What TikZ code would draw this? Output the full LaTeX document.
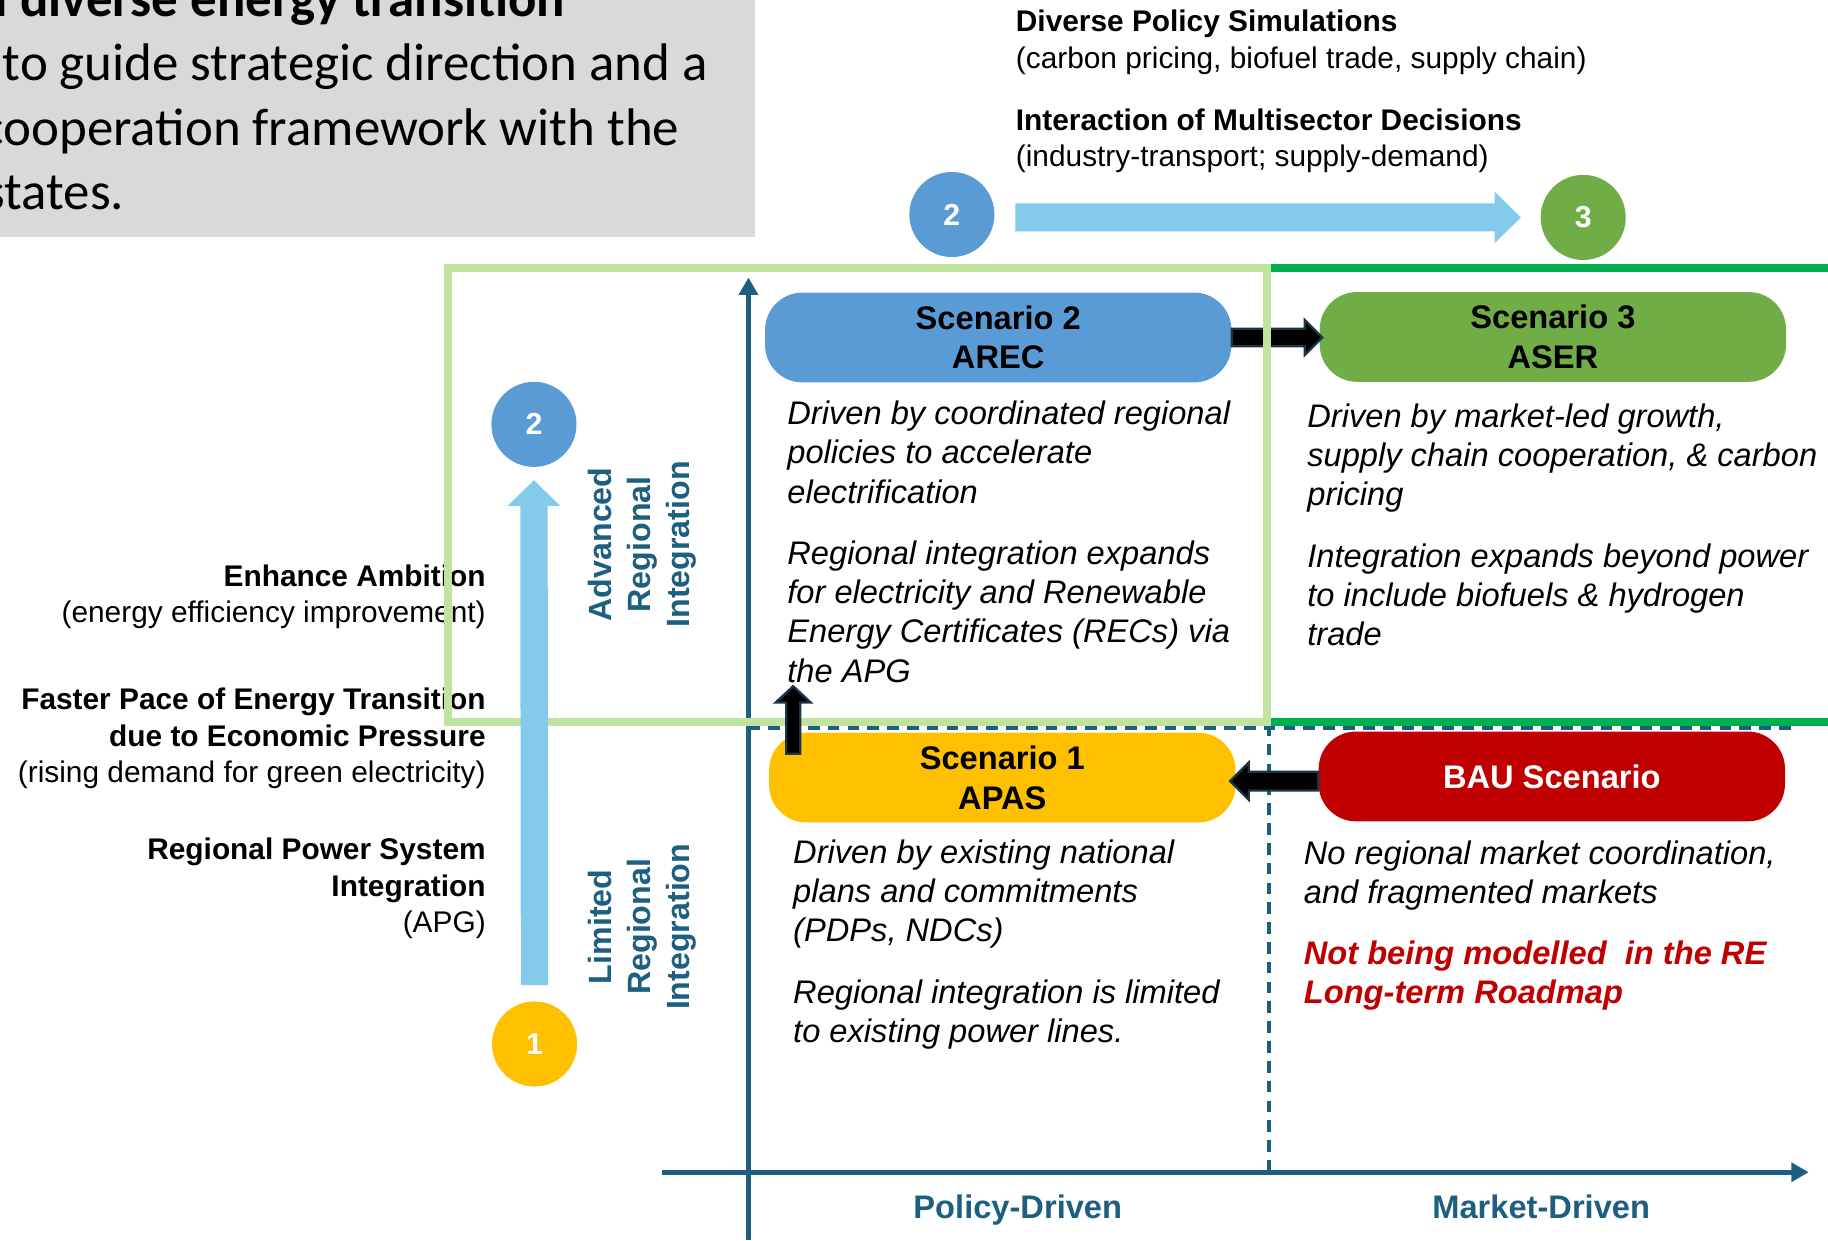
\documentclass[tikz,border=0pt]{standalone}
\usepackage{fontspec}
\setmainfont{Liberation Sans}
\newfontfamily\calibri{Carlito}
\usetikzlibrary{arrows.meta,calc}
\definecolor{grayboxc}{HTML}{D9D9D9}
\definecolor{sblue}{HTML}{5B9BD5}
\definecolor{sgreen}{HTML}{70AD47}
\definecolor{syellow}{HTML}{FFC000}
\definecolor{sred}{HTML}{C00000}
\definecolor{lightarrow}{HTML}{83CAEB}
\definecolor{axisc}{HTML}{1D5F80}
\definecolor{lgreen}{HTML}{C0E3A0}
\definecolor{dgreen}{HTML}{00B050}
\definecolor{outl}{HTML}{1A3645}
\tikzset{
  graytext/.style={inner sep=0pt, font=\calibri\fontsize{22.7}{27.5}\selectfont},
  ann/.style={inner sep=0pt, font=\fontsize{12.8}{15.5}\selectfont},
  annb/.style={ann, font=\fontsize{12.8}{15.5}\selectfont\bfseries},
  desc/.style={inner sep=0pt, align=left, anchor=base west, font=\fontsize{14}{16.75}\selectfont\itshape},
  pill/.style={rounded corners=16pt, minimum width=200pt, minimum height=38.5pt, inner sep=0pt,
    font=\fontsize{14}{17}\selectfont\bfseries, align=center},
  numcirc/.style={circle, minimum size=36.5pt, inner sep=0pt, text=white, font=\fontsize{13}{13}\selectfont\bfseries},
  rotlab/.style={rotate=90, align=center, inner sep=0pt, text=axisc, font=\fontsize{13.8}{16.75}\selectfont\bfseries},
  axlab/.style={inner sep=0pt, text=axisc, anchor=base, font=\fontsize{14}{16}\selectfont\bfseries},
  axisline/.style={draw=axisc, line width=2.15pt, -{Triangle[length=7.5pt,width=8pt]}},
  dashline/.style={draw=axisc, line width=1.4pt, dash pattern=on 5pt off 3.5pt},
  blackarrow/.style={fill=black, draw=outl, line width=1pt, line join=miter},
  lightarrowfill/.style={fill=lightarrow}
}
\begin{document}
\begin{tikzpicture}[x=0.5pt,y=-0.5pt]
\useasboundingbox (0,0) rectangle (1568,1064);

% gray box
\fill[grayboxc] (0,0) rectangle (648,203);
\begin{scope}
\clip (0,0) rectangle (648,203);
\node[graytext, font=\calibri\fontsize{22.7}{27.5}\selectfont\bfseries, anchor=base east] (g1) at (485,14) {and diverse energy transition};
\node[graytext, anchor=base west] (g2) at (2,69) {to guide strategic direction and a};
\node[graytext, anchor=base east] (g3) at (583,125) {cooperation framework with the};
\node[graytext, anchor=base east] (g4) at (107,180) {states.};
\end{scope}

% top annotations
\node[annb, anchor=base west] (t1) at (871,27) {Diverse Policy Simulations};
\node[ann, anchor=base west] (t2) at (871,58.5) {(carbon pricing, biofuel trade, supply chain)};
\node[annb, anchor=base west] (t3) at (871,112) {Interaction of Multisector Decisions};
\node[ann, anchor=base west] (t4) at (871,143) {(industry-transport; supply-demand)};

% left annotations
\node[annb, anchor=base east] (l1) at (417,503) {Enhance Ambition};
\node[ann, anchor=base east] (l2) at (417,534) {(energy efficiency improvement)};
\node[annb, anchor=base east] (l3) at (417,609) {Faster Pace of Energy Transition};
\node[annb, anchor=base east] (l4) at (417,640) {due to Economic Pressure};
\node[ann, anchor=base east] (l5) at (417,671) {(rising demand for green electricity)};
\node[annb, anchor=base east] (l6) at (417,737) {Regional Power System};
\node[annb, anchor=base east] (l7) at (417,769) {Integration};
\node[ann, anchor=base east] (l8) at (417,800) {(APG)};

% dashed quadrant lines
\coordinate (dvtop) at (1088.5,230);
\coordinate (dvbot) at (1088.5,1005.5);
\coordinate (dhl) at (642,624.5);
\coordinate (dhr) at (1540,624.5);
\draw[dashline] (dvtop) -- (dvbot);
\draw[dashline] (dhl) -- (dhr);

% axes
\coordinate (yax0) at (642,1064);
\coordinate (yax1) at (642,238);
\coordinate (xax0) at (567.5,1005.5);
\coordinate (xax1) at (1551.5,1005.5);
\draw[axisline] (yax0) -- (yax1);
\draw[axisline] (xax0) -- (xax1);

% scenario boxes
\node[pill, fill=sblue] (s2) at (856.25,289.5) {Scenario 2\\AREC};
\node[pill, fill=sgreen] (s3) at (1332,289) {Scenario 3\\ASER};
\node[pill, fill=syellow] (s1) at (859.75,667) {Scenario 1\\APAS};
\node[pill, fill=sred, text=white] (bau) at (1331.1,666) {BAU Scenario};

% arrow S2 -> S3
\coordinate (ba) at (s2.east);
\coordinate (bb) at ($(s3.west |- s2.east)+(2.5,0)$);
\draw[blackarrow] ($(ba)+(0,-7.5)$) -- ($(bb)+(-15,-7.5)$) -- ($(bb)+(-15,-15)$) -- (bb)
  -- ($(bb)+(-15,15)$) -- ($(bb)+(-15,7.5)$) -- ($(ba)+(0,7.5)$) -- cycle;

% arrow BAU -> S1
\coordinate (ca) at ($(bau.west)+(0,4)$);
\coordinate (cb) at ($(s1.east |- ca)+(-5,0)$);
\draw[blackarrow] ($(ca)+(0,-8)$) -- ($(cb)+(16,-8)$) -- ($(cb)+(16,-16)$) -- (cb)
  -- ($(cb)+(16,16)$) -- ($(cb)+(16,8)$) -- ($(ca)+(0,8)$) -- cycle;

% descriptions (base = baseline of last line)
\node[desc] (d2) at (675,585) {Driven by coordinated regional\\policies to accelerate\\electrification\\[9.75pt]Regional integration expands\\for electricity and Renewable\\Energy Certificates (RECs) via\\the APG};
\node[desc] (d3) at (1121,554) {Driven by market-led growth,\\supply chain cooperation, \& carbon\\pricing\\[9.75pt]Integration expands beyond power\\to include biofuels \& hydrogen\\trade};
\node[desc] (d1) at (680,894.5) {Driven by existing national\\plans and commitments\\(PDPs, NDCs)\\[10pt]Regional integration is limited\\to existing power lines.};
\node[desc] (db) at (1118,775) {No regional market coordination,\\and fragmented markets};
\node[desc, text=sred, font=\fontsize{14}{16.75}\selectfont\bfseries\itshape] (dr) at (1118,861) {Not being modelled~ in the RE\\Long-term Roadmap};

% green frames
\draw[lgreen, line width=3.5pt] (384.5,230) rectangle (1086.5,619.5);
\draw[dgreen, line width=3.5pt] (1090,230) -- (1568,230);
\draw[dgreen, line width=3.5pt] (1090,619.5) -- (1568,619.5);

% up arrow from S1
\coordinate (ua) at ($(s1.north west)+(21,18.5)$);
\coordinate (ub) at ($(s1.north west)+(21,-39.5)$);
\draw[blackarrow] ($(ua)+(-6,0)$) -- ($(ub)+(-6,14)$) -- ($(ub)+(-15,14)$) -- (ub)
  -- ($(ub)+(15,14)$) -- ($(ub)+(6,14)$) -- ($(ua)+(6,0)$) -- cycle;

% circles
\node[numcirc, fill=sblue] (c2t) at (816.5,184) {2};
\node[numcirc, fill=sgreen] (c3t) at (1358,186.5) {3};
\node[numcirc, fill=sblue] (c2l) at (458,364) {2};
\node[numcirc, fill=syellow] (c1) at (458.5,895.5) {1};

% light blue arrows
\coordinate (ha) at ($(c2t.east |- c3t.center)+(17.5,0)$);
\coordinate (hb) at ($(c3t.west)+(-16.5,0)$);
\fill[lightarrowfill] ($(ha)+(0,-12)$) -- ($(hb)+(-22.5,-12)$) -- ($(hb)+(-22.5,-22)$) -- (hb)
  -- ($(hb)+(-22.5,22)$) -- ($(hb)+(-22.5,12)$) -- ($(ha)+(0,12)$) -- cycle;
\coordinate (va) at ($(c1.north)+(0,-13.5)$);
\coordinate (vb) at ($(c2l.south)+(0,11)$);
\fill[lightarrowfill] ($(va)+(-11.75,0)$) -- ($(vb)+(-11.75,22)$) -- ($(vb)+(-22.5,22)$) -- (vb)
  -- ($(vb)+(22.5,22)$) -- ($(vb)+(11.75,22)$) -- ($(va)+(11.75,0)$) -- cycle;

% rotated labels
\node[rotlab] (adv) at (551,467) {Advanced\\Regional\\Integration};
\node[rotlab] (lim) at (551,795) {Limited\\Regional\\Integration};

% axis labels
\node[axlab] (pol) at (873,1045) {Policy-Driven};
\node[axlab] (mkt) at (1322,1045) {Market-Driven};
\end{tikzpicture}
\end{document}
